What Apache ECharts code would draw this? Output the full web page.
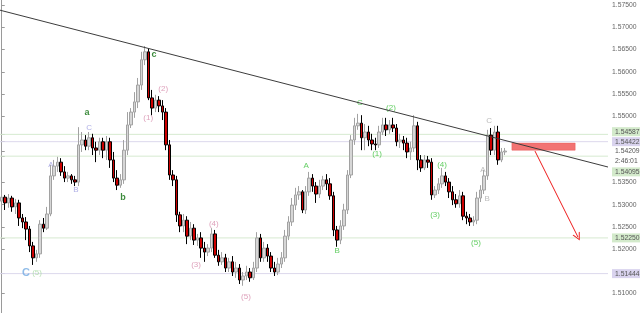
<!DOCTYPE html>
<html>
<head>
<meta charset="utf-8">
<script src="https://cdn.jsdelivr.net/npm/echarts@6/dist/echarts.min.js"></script>
<style>
html,body{margin:0;padding:0;background:#fff;}
#chart{width:640px;height:313px;}
</style>
</head>
<body>
<div id="chart"></div>
<script>
// hourly candles (open, close, low, high)
const opens = [
1.5308,1.5317,1.5304,1.5315,1.5295,1.5304,1.5270,1.5261,1.5245,1.5207,
1.5180,1.5189,1.5256,1.5247,1.5279,1.5365,1.5387,1.5396,1.5374,1.5360,
1.5365,1.5356,1.5351,1.5435,1.5446,1.5432,1.5451,1.5428,1.5423,1.5442,
1.5423,1.5442,1.5401,1.5360,1.5344,1.5356,1.5423,1.5480,1.5509,1.5532,
1.5570,1.5627,1.5645,1.5541,1.5518,1.5536,1.5523,1.5509,1.5435,1.5367,
1.5356,1.5277,1.5252,1.5265,1.5229,1.5247,1.5220,1.5225,1.5202,1.5193,
1.5202,1.5234,1.5186,1.5171,1.5180,1.5157,1.5171,1.5148,1.5157,1.5130,
1.5139,1.5148,1.5135,1.5157,1.5225,1.5180,1.5202,1.5184,1.5157,1.5148,
1.5166,1.5180,1.5229,1.5261,1.5299,1.5322,1.5329,1.5288,1.5329,1.5360,
1.5342,1.5324,1.5342,1.5356,1.5347,1.5320,1.5243,1.5220,1.5252,1.5288,
1.5367,1.5446,1.5478,1.5484,1.5451,1.5464,1.5446,1.5437,1.5435,1.5464,
1.5480,1.5469,1.5480,1.5473,1.5442,1.5446,1.5439,1.5419,1.5428,1.5478,
1.5401,1.5383,1.5401,1.5396,1.5322,1.5333,1.5347,1.5365,1.5351,1.5329,
1.5311,1.5302,1.5320,1.5274,1.5270,1.5261,1.5265,1.5315,1.5333,1.5365,
1.5457,1.5423,1.5464,1.5401,1.5419
];
const closes = [
1.5317,1.5304,1.5315,1.5295,1.5304,1.5270,1.5261,1.5245,1.5207,1.5180,
1.5189,1.5256,1.5247,1.5279,1.5365,1.5387,1.5396,1.5374,1.5360,1.5365,
1.5356,1.5351,1.5435,1.5446,1.5432,1.5451,1.5428,1.5423,1.5442,1.5423,
1.5442,1.5401,1.5360,1.5344,1.5356,1.5423,1.5480,1.5509,1.5532,1.5570,
1.5627,1.5645,1.5541,1.5518,1.5536,1.5523,1.5509,1.5435,1.5367,1.5356,
1.5277,1.5252,1.5265,1.5229,1.5247,1.5220,1.5225,1.5202,1.5193,1.5202,
1.5234,1.5186,1.5171,1.5180,1.5157,1.5171,1.5148,1.5157,1.5130,1.5139,
1.5148,1.5135,1.5157,1.5225,1.5180,1.5202,1.5184,1.5157,1.5148,1.5166,
1.5180,1.5229,1.5261,1.5299,1.5322,1.5329,1.5288,1.5329,1.5360,1.5342,
1.5324,1.5342,1.5356,1.5347,1.5320,1.5243,1.5220,1.5252,1.5288,1.5367,
1.5446,1.5478,1.5484,1.5451,1.5464,1.5446,1.5437,1.5435,1.5464,1.5480,
1.5469,1.5480,1.5473,1.5442,1.5446,1.5439,1.5419,1.5428,1.5478,1.5401,
1.5383,1.5401,1.5396,1.5322,1.5333,1.5347,1.5365,1.5351,1.5329,1.5311,
1.5302,1.5320,1.5274,1.5270,1.5261,1.5265,1.5315,1.5333,1.5365,1.5457,
1.5423,1.5464,1.5401,1.5419,1.5421
];
const lows = [
1.5299,1.5288,1.5293,1.5284,1.5279,1.5252,1.5247,1.5220,1.5193,1.5164,
1.5171,1.5180,1.5238,1.5243,1.5274,1.5356,1.5374,1.5365,1.5351,1.5351,
1.5347,1.5342,1.5342,1.5419,1.5423,1.5423,1.5412,1.5396,1.5412,1.5405,
1.5401,1.5383,1.5351,1.5333,1.5338,1.5347,1.5412,1.5473,1.5496,1.5518,
1.5559,1.5615,1.5536,1.5502,1.5509,1.5509,1.5491,1.5423,1.5356,1.5342,
1.5261,1.5238,1.5238,1.5211,1.5220,1.5209,1.5207,1.5180,1.5171,1.5184,
1.5193,1.5180,1.5162,1.5164,1.5148,1.5148,1.5139,1.5135,1.5121,1.5117,
1.5130,1.5126,1.5130,1.5148,1.5171,1.5171,1.5171,1.5148,1.5139,1.5141,
1.5157,1.5171,1.5220,1.5252,1.5288,1.5311,1.5281,1.5279,1.5320,1.5329,
1.5304,1.5315,1.5333,1.5333,1.5311,1.5229,1.5205,1.5211,1.5243,1.5279,
1.5360,1.5435,1.5469,1.5423,1.5423,1.5432,1.5423,1.5423,1.5428,1.5457,
1.5455,1.5460,1.5464,1.5432,1.5428,1.5423,1.5405,1.5401,1.5419,1.5378,
1.5374,1.5378,1.5383,1.5311,1.5315,1.5324,1.5338,1.5342,1.5315,1.5299,
1.5293,1.5293,1.5265,1.5256,1.5252,1.5252,1.5256,1.5306,1.5324,1.5356,
1.5412,1.5412,1.5390,1.5396,1.5412
];
const highs = [
1.5327,1.5322,1.5324,1.5320,1.5313,1.5311,1.5279,1.5272,1.5252,1.5216,
1.5198,1.5265,1.5270,1.5295,1.5390,1.5401,1.5408,1.5405,1.5387,1.5374,
1.5369,1.5365,1.5475,1.5464,1.5457,1.5464,1.5460,1.5442,1.5451,1.5451,
1.5455,1.5451,1.5419,1.5378,1.5369,1.5446,1.5509,1.5518,1.5554,1.5586,
1.5645,1.5658,1.5653,1.5559,1.5548,1.5545,1.5536,1.5518,1.5446,1.5378,
1.5365,1.5284,1.5279,1.5274,1.5261,1.5256,1.5234,1.5238,1.5216,1.5211,
1.5247,1.5243,1.5198,1.5193,1.5189,1.5180,1.5184,1.5171,1.5166,1.5148,
1.5162,1.5157,1.5171,1.5238,1.5234,1.5216,1.5211,1.5193,1.5171,1.5180,
1.5193,1.5243,1.5274,1.5315,1.5338,1.5342,1.5333,1.5342,1.5374,1.5369,
1.5351,1.5356,1.5365,1.5369,1.5360,1.5329,1.5252,1.5265,1.5302,1.5378,
1.5457,1.5496,1.5505,1.5502,1.5482,1.5478,1.5460,1.5451,1.5478,1.5496,
1.5496,1.5491,1.5496,1.5482,1.5460,1.5455,1.5451,1.5442,1.5502,1.5487,
1.5412,1.5412,1.5410,1.5405,1.5342,1.5360,1.5383,1.5374,1.5360,1.5342,
1.5324,1.5333,1.5329,1.5284,1.5279,1.5274,1.5329,1.5344,1.5378,1.5469,
1.5473,1.5478,1.5478,1.5428,1.5428
];

// time slots on the x axis (candles fill the first ones, the rest is room for the projection)
const slotCount = 174;
const priceMin = 1.505552;
const priceMax = 1.576196;

// right-hand price scale
const scaleTicks = [1.51, 1.52, 1.525, 1.53, 1.535, 1.55, 1.555, 1.56, 1.565, 1.57, 1.575];

// horizontal support / resistance levels
const greenLevels = [1.54587, 1.54095, 1.52250];
const purpleLevels = [1.54422, 1.51444];

// price tags on the right edge
const tagTexts  = ['1.54587', '1.54422', '1.54209', '2:46:01', '1.54095', '1.52250', '1.51444'];
const tagValues = [1.54587, 1.54422, 1.54209, 1.54209, 1.54095, 1.52250, 1.51444];
const tagKinds  = ['green', 'purple', 'plain', 'plain', 'green', 'green', 'purple'];

// descending trend line (slot position, price)
const trendLine = [[-0.5, 1.5739], [173.5, 1.5385]];

// target zone and projected move
const sellZone = [[146.0, 1.5439], [164.1, 1.5423]];
const projection = [[152.6, 1.5421], [164.9, 1.5227]];

// wave counts: [text, slot position, price]
const bigWaveC   = [['C', 6.94, 1.5146]];
const fadedFive  = [['(5)', 10.1, 1.5146]];
const lavenderWaves = [['A', 14.1, 1.5390], ['B', 21.25, 1.5333], ['C', 25.0, 1.5473]];
const minorWaves = [['a', 24.4, 1.5509], ['b', 34.7, 1.5317], ['c', 43.6, 1.5638]];
const pinkWaves  = [['(1)', 41.9, 1.5496], ['(2)', 46.2, 1.5561], ['(3)', 55.6, 1.5164], ['(4)', 60.7, 1.5256], ['(5)', 69.9, 1.5092]];
const greenWaves = [['A', 87.1, 1.5387], ['B', 96.0, 1.5196], ['C', 102.5, 1.5530], ['(1)', 107.4, 1.5414], ['(2)', 111.4, 1.5518], ['(3)', 124.0, 1.5277], ['(4)', 126.0, 1.5390], ['(5)', 135.7, 1.5214]];
const grayWaves  = [['A', 137.7, 1.5378], ['B', 138.9, 1.5313], ['C', 139.5, 1.5489]];

const FONT = 'Liberation Sans, Arial, sans-serif';

const candles = opens.map((o, i) => [o, closes[i], lows[i], highs[i]]);
const slots = Array.from({length: slotCount}, (_, i) => String(i));

function waveSeries(list, color, size, weight) {
  return {
    type: 'scatter',
    xAxisIndex: 1,
    yAxisIndex: 0,
    symbolSize: 0,
    silent: true,
    z: 2,
    data: list.map(d => ({value: [d[1], d[2]], name: d[0]})),
    label: {
      show: true,
      position: 'inside',
      formatter: p => p.name,
      color: color,
      fontSize: size,
      fontWeight: weight,
      fontFamily: FONT
    }
  };
}

// each level is a flat line across the whole time range, kept behind the candles
function levelSeries(value, color) {
  return {
    type: 'line',
    xAxisIndex: 1,
    yAxisIndex: 0,
    data: [[-0.5, value], [slotCount - 0.5, value]],
    symbol: 'none',
    silent: true,
    z: 1,
    lineStyle: {color: color, width: 1}
  };
}

const chart = echarts.init(document.getElementById('chart'), null, {renderer: 'canvas'});

const option = {
  animation: false,
  backgroundColor: '#ffffff',
  grid: {left: 0, right: 32, top: 0, bottom: 0},
  xAxis: [
    {type: 'category', data: slots, boundaryGap: true, show: false},
    {type: 'value', min: -0.5, max: slotCount - 0.5, show: false}
  ],
  yAxis: {
    type: 'value',
    position: 'right',
    min: priceMin,
    max: priceMax,
    splitLine: {show: false},
    axisLine: {show: true, lineStyle: {color: '#9a9a9a', width: 1}},
    axisTick: {
      show: true, length: 3, inside: false,
      lineStyle: {color: '#9a9a9a'},
      customValues: scaleTicks.concat([1.54587, 1.54422, 1.54209, 1.54095, 1.52250, 1.51444])
    },
    axisLabel: {
      customValues: scaleTicks,
      formatter: v => v.toFixed(5),
      fontSize: 6.8,
      color: '#666666',
      margin: 4,
      fontFamily: FONT
    }
  },
  series: []
    .concat(greenLevels.map(v => levelSeries(v, '#d6ead0')))
    .concat(purpleLevels.map(v => levelSeries(v, '#dcd8ec')))
    .concat([
      waveSeries(bigWaveC, '#72aae2', 11, 'bold'),
      waveSeries(fadedFive, '#a8d8a2', 8, 'normal'),
      waveSeries(lavenderWaves, '#9b9be0', 8, 'normal'),
      waveSeries(minorWaves, '#0b6e0b', 9, 'bold'),
      waveSeries(pinkWaves, '#d68aaa', 8, 'normal'),
      waveSeries(greenWaves, '#3cc23c', 8, 'normal'),
      waveSeries(grayWaves, '#aaaaaa', 8, 'normal'),
      {
        type: 'candlestick',
        xAxisIndex: 0,
        yAxisIndex: 0,
        data: candles,
        barWidth: 3,
        z: 3,
        silent: true,
        itemStyle: {
          color: '#d6d6d6',
          color0: '#cc0000',
          borderColor: '#a2a2a2',
          borderColor0: '#000000',
          borderWidth: 1
        }
      },
      {
        type: 'line',
        xAxisIndex: 1,
        yAxisIndex: 0,
        data: trendLine,
        symbol: 'none',
        silent: true,
        z: 4,
        lineStyle: {color: '#3c3c3c', width: 1},
        markArea: {
          silent: true,
          itemStyle: {color: 'rgba(240,90,90,0.85)', borderColor: '#e85a5a', borderWidth: 0.5},
          data: [[{coord: sellZone[0]}, {coord: sellZone[1]}]]
        },
        markLine: {
          silent: true,
          symbol: ['none', 'path://M5,0 L10,10 L8.6,10 L5,2.6 L1.4,10 L0,10 Z'],
          symbolSize: [8, 8],
          label: {show: false},
          lineStyle: {color: '#ee1c1c', width: 1, type: 'solid'},
          data: [[{coord: projection[0]}, {coord: projection[1]}]]
        }
      }
    ])
};

chart.setOption(option);

// price tags next to the scale, stacked where they would collide
const tagShift = [-2.7, 0, 0, 10.5, 15.7, 0, 0];
const tagFill = {green: '#d3eacb', purple: '#d9d3ee', plain: null};
const tags = tagTexts.map((t, i) => {
  const py = chart.convertToPixel({yAxisIndex: 0}, tagValues[i]) + tagShift[i];
  const bg = tagFill[tagKinds[i]];
  return {
    type: 'text',
    x: 612,
    y: py,
    silent: true,
    z: 10,
    style: {
      text: t,
      fill: '#555555',
      font: '6.8px ' + FONT,
      verticalAlign: 'middle',
      align: 'left',
      backgroundColor: bg || 'transparent',
      padding: [1, 3, 1, 3]
    }
  };
});
chart.setOption({graphic: tags});
</script>
</body>
</html>
